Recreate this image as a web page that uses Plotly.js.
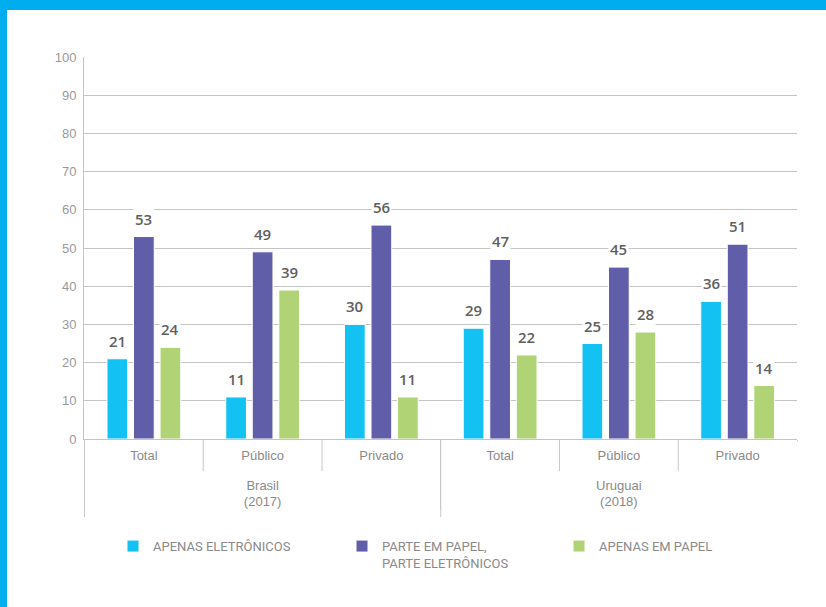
<!DOCTYPE html>
<html>
<head>
<meta charset="utf-8">
<script src="https://cdn.plot.ly/plotly-3.0.1.min.js"></script>
<style>
  html, body { margin: 0; padding: 0; background: #fff; }
  #wrap { position: relative; width: 826px; height: 607px; overflow: hidden; }
  #chart { width: 826px; height: 607px; }
  .bandTop { position: absolute; left: 0; top: 0; width: 826px; height: 10px; background: #00AEEF; }
  .bandLeft { position: absolute; left: 0; top: 0; width: 7px; height: 607px; background: #00AEEF; }
</style>
</head>
<body>
<div id="wrap">
  <div id="chart"></div>
  <div class="bandTop"></div>
  <div class="bandLeft"></div>
</div>
<script>
// ---- data ----
const countries = ["&nbsp;<br>Brasil<br>(2017)", "&nbsp;<br>Brasil<br>(2017)", "&nbsp;<br>Brasil<br>(2017)",
                   "&nbsp;<br>Uruguai<br>(2018)", "&nbsp;<br>Uruguai<br>(2018)", "&nbsp;<br>Uruguai<br>(2018)"];
const sectors = ["Total", "Público", "Privado", "Total", "Público", "Privado"];
const seriesNames = ["APENAS ELETRÔNICOS", "PARTE EM PAPEL,<br>PARTE ELETRÔNICOS", "APENAS EM PAPEL"];
const apenasEletronicos = [21, 11, 30, 29, 25, 36];
const parteEmPapel = [53, 49, 56, 47, 45, 51];
const apenasEmPapel = [24, 39, 11, 22, 28, 14];
const yTicks = [0, 10, 20, 30, 40, 50, 60, 70, 80, 90, 100];

// ---- styles ----
const colors = ["#13C1F2", "#605DA9", "#B0D475"];
const W = 826, H = 607;
const margin = { l: 84, r: 29, t: 57, b: 168 };
const bargap = 0.33, bargroupgap = 0.22;
const plotW = W - margin.l - margin.r;
const plotH = H - margin.t - margin.b;
const legendIds = ["legend", "legend2", "legend3"];
const legendLeftPx = [113, 342, 559];

const seriesValues = [apenasEletronicos, parteEmPapel, apenasEmPapel];

const traces = seriesValues.map((vals, s) => ({
  type: "bar",
  name: seriesNames[s],
  legend: legendIds[s],
  x: [countries, sectors],
  y: vals,
  marker: { color: colors[s], line: { color: "#ffffff", width: 1 } },
  hoverinfo: "skip"
}));

const catW = plotW / sectors.length;
const slot = catW * (1 - bargap) / seriesValues.length;

const annotations = [];
seriesValues.forEach((vals, s) => {
  vals.forEach((v, i) => {
    annotations.push({
      x: i, y: v, xref: "x", yref: "y",
      text: String(v),
      showarrow: false,
      xanchor: "center", yanchor: "bottom",
      xshift: (s - (seriesValues.length - 1) / 2) * slot,
      yshift: 6,
      bgcolor: "#ffffff",
      borderpad: 1,
      font: { family: "Open Sans, Liberation Sans, sans-serif", size: 15, color: "#606060", weight: 600 }
    });
  });
});

// separators below the axis: short ones between sectors, long ones between countries
const shapes = [];
for (let i = 0; i < sectors.length; i++) {
  const groupStart = i === 0 || countries[i] !== countries[i - 1];
  shapes.push({
    type: "line", xref: "x", yref: "paper",
    x0: i - 0.5, x1: i - 0.5, y0: 0, y1: (groupStart ? -78 : -32) / plotH,
    line: { color: "#C8C8C8", width: 1 }
  });
}
// hide the trailing divider at the right end
shapes.push({
  type: "rect", xref: "paper", yref: "paper", layer: "above",
  x0: 1 - 1.5 / plotW, x1: 1 + 4 / plotW, y0: -2 / plotH, y1: -120 / plotH,
  fillcolor: "#ffffff", line: { width: 0 }
});

const legendFont = { family: "Roboto, Liberation Sans, sans-serif", size: 13, color: "#8A8A8A" };

const layout = {
  width: W, height: H,
  margin: margin,
  paper_bgcolor: "#ffffff",
  plot_bgcolor: "#ffffff",
  barmode: "group",
  bargap: bargap,
  bargroupgap: bargroupgap,
  showlegend: true,
  xaxis: {
    type: "multicategory",
    automargin: false,
    showline: true, linecolor: "#C4C4C4", linewidth: 1,
    ticks: "", ticklabelstandoff: 4,
    showdividers: true, dividercolor: "#C8C8C8", dividerwidth: 1,
    tickfont: { family: "Liberation Sans, sans-serif", size: 13, color: "#8A8A8A" },
    showgrid: false, fixedrange: true
  },
  yaxis: {
    automargin: false,
    range: [0, 100],
    tickvals: yTicks,
    showgrid: true, gridcolor: "#C4C4C4", gridwidth: 1,
    showline: true, linecolor: "#C4C4C4", linewidth: 1,
    zeroline: false,
    ticks: "", ticklabelstandoff: 4,
    tickfont: { family: "Liberation Sans, sans-serif", size: 13, color: "#9A9A9A" },
    fixedrange: true
  },
  shapes: shapes,
  annotations: annotations
};

legendIds.forEach((id, s) => {
  layout[id] = {
    orientation: "h",
    xref: "container", yref: "container",
    x: legendLeftPx[s] / W, xanchor: "left",
    y: 0.125, yanchor: "top",
    valign: "top",
    font: legendFont,
    bgcolor: "rgba(0,0,0,0)"
  };
});

Plotly.newPlot("chart", traces, layout, { displayModeBar: false, staticPlot: true });
</script>
</body>
</html>
